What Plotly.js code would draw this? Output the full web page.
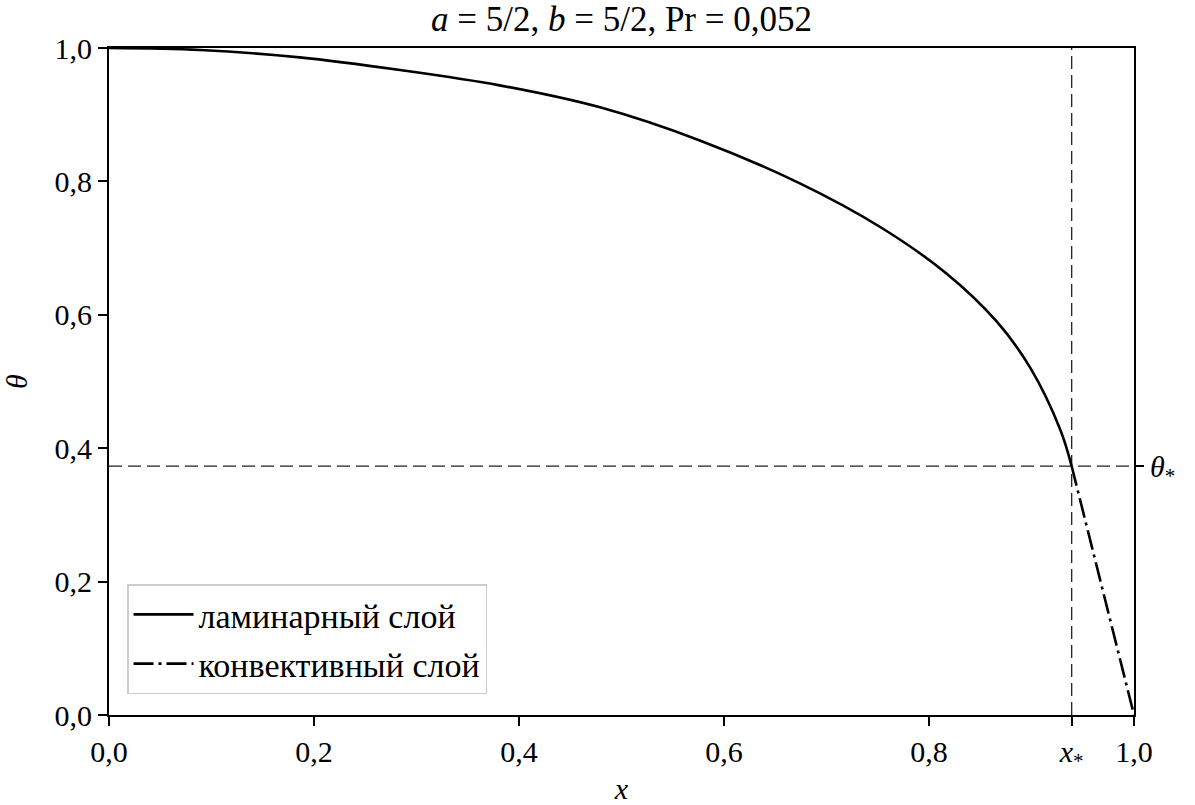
<!DOCTYPE html>
<html>
<head>
<meta charset="utf-8">
<script src="https://cdn.plot.ly/plotly-3.0.1.min.js"></script>
<style>
  html, body { margin: 0; padding: 0; background: #ffffff; }
  #chart { width: 1195px; height: 805px; }
</style>
</head>
<body>
<div id="chart"></div>
<script>
// Laminar-layer temperature profile theta(x)
const laminarX = [0.000, 0.089, 0.186, 0.284, 0.381, 0.479, 0.577, 0.674,
                  0.752, 0.817, 0.866, 0.899, 0.928, 0.9392];
const laminarTheta = [1.000, 0.997, 0.986, 0.967, 0.944, 0.911, 0.861, 0.797,
                      0.732, 0.662, 0.590, 0.520, 0.428, 0.373];

// Transition point between the two layers
const xStar = 0.9392;
const thetaStar = 0.373;

// Convective layer: straight segment from the transition point down to the wall
const convectiveX = [xStar, 1.0];
const convectiveTheta = [thetaStar, 0.0];

// Axis ticks
const xTickVals = [0, 0.2, 0.4, 0.6, 0.8, xStar, 1.0];
const xTickText = ['0,0', '0,2', '0,4', '0,6', '0,8', '<i>x</i><sub>*</sub>', '1,0'];
const yTickVals = [0, 0.2, 0.4, 0.6, 0.8, 1.0];
const yTickText = ['0,0', '0,2', '0,4', '0,6', '0,8', '1,0'];

// Labels
const titleText = '<i>a</i> = 5/2, <i>b</i> = 5/2, Pr = 0,052';
const laminarName = 'ламинарный слой';
const convectiveName = 'конвективный слой';

const FONT = 'Liberation Serif';

const traces = [
  {
    x: [xStar, xStar], y: [0, 1], mode: 'lines', showlegend: false, hoverinfo: 'skip',
    line: { color: '#222222', width: 1.3, dash: '13px,6px' }
  },
  {
    x: [0, 1], y: [thetaStar, thetaStar], mode: 'lines', showlegend: false, hoverinfo: 'skip',
    line: { color: '#222222', width: 1.3, dash: '13px,6px' }
  },
  {
    x: laminarX, y: laminarTheta, mode: 'lines', name: laminarName, legendgroup: 'a',
    line: { color: '#000000', width: 2.6, shape: 'spline', smoothing: 1 }
  },
  {
    x: convectiveX, y: convectiveTheta, mode: 'lines', name: convectiveName, legendgroup: 'b',
    line: { color: '#000000', width: 2.6, dash: '20px,5px,3px,5px' }
  },
  {
    // carries the right-hand theta_* tick
    x: [0], y: [thetaStar], yaxis: 'y2', mode: 'markers', showlegend: false,
    hoverinfo: 'skip', marker: { opacity: 0 }
  }
];

const axisCommon = {
  showgrid: false, zeroline: false, showline: true, linecolor: '#000000', linewidth: 2,
  mirror: true, ticks: 'outside', ticklen: 9, tickwidth: 2, tickcolor: '#000000',
  tickfont: { family: FONT, size: 30, color: '#000000' }
};

const layout = {
  width: 1195, height: 805,
  paper_bgcolor: '#ffffff', plot_bgcolor: '#ffffff',
  margin: { l: 109, r: 61, t: 48, b: 90, pad: 0 },
  font: { family: FONT, color: '#000000', size: 30 },
  title: {
    text: titleText, x: 0.5, xref: 'paper', xanchor: 'center', y: 0.977, yanchor: 'middle',
    font: { family: FONT, size: 35, color: '#000000' }
  },
  xaxis: Object.assign({}, axisCommon, {
    range: [0, 1], tickmode: 'array', tickvals: xTickVals, ticktext: xTickText,
    title: { text: '<i>x</i>', font: { family: FONT, size: 30 }, standoff: 6 }
  }),
  yaxis: Object.assign({}, axisCommon, {
    range: [0, 1], tickmode: 'array', tickvals: yTickVals, ticktext: yTickText,
    title: { text: '<i>θ</i>', font: { family: FONT, size: 30 }, standoff: 20 }
  }),
  yaxis2: {
    overlaying: 'y', side: 'right', range: [0, 1], showgrid: false, zeroline: false,
    showline: false, ticks: 'outside', ticklen: 9, tickwidth: 2, tickcolor: '#000000',
    tickmode: 'array', tickvals: [thetaStar], ticktext: ['<i>θ</i><sub>*</sub>'],
    tickfont: { family: FONT, size: 30, color: '#000000' }
  },
  legend: {
    x: 0.0176, y: 0.031, xanchor: 'left', yanchor: 'bottom',
    bgcolor: 'rgba(255,255,255,0.8)', bordercolor: '#cccccc', borderwidth: 1.5,
    font: { family: FONT, size: 34, color: '#000000' },
    traceorder: 'grouped', tracegroupgap: 2, itemwidth: 60
  },
  showlegend: true
};

Plotly.newPlot('chart', traces, layout, { displayModeBar: false, staticPlot: true });
</script>
</body>
</html>
